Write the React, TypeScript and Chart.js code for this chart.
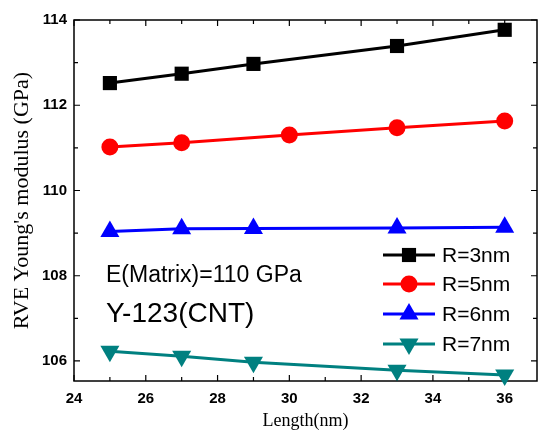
import React, { useEffect, useRef } from "react";
import { Chart, registerables } from "chart.js";

Chart.register(...registerables);

const seriesLabels = ["R=3nm", "R=5nm", "R=6nm", "R=7nm"];
const lengthsR3 = [25, 27, 29, 33, 36];
const modulusR3 = [112.52, 112.74, 112.97, 113.39, 113.77];
const lengthsR5 = [25, 27, 30, 33, 36];
const modulusR5 = [111.02, 111.12, 111.3, 111.47, 111.63];
const lengthsR6 = [25, 27, 29, 33, 36];
const modulusR6 = [109.04, 109.1, 109.11, 109.12, 109.14];
const lengthsR7 = [25, 27, 29, 33, 36];
const modulusR7 = [106.23, 106.11, 105.97, 105.78, 105.67];

const xTickValues = [24, 26, 28, 30, 32, 34, 36];
const yTickValues = [106, 108, 110, 112, 114];
const xMinorValues = [25, 27, 29, 31, 33, 35];
const yMinorValues = [107, 109, 111, 113];

const annotationLine1 = "E(Matrix)=110 GPa";
const annotationLine2 = "Y-123(CNT)";
const xTitle = "Length(nm)";
const yTitle = "RVE Young's modulus (GPa)";

const SANS = "'Liberation Sans', Arial, sans-serif";
const SERIF = "'Liberation Serif', 'Times New Roman', serif";

const colors = ["#000000", "#ff0000", "#0000ff", "#008080"];
const pointStyles = ["rect", "circle", "triangle", "triangle"];
const pointRotations = [0, 0, 0, 180];
const pointRadii = [10, 8.5, 11, 11];

const zip = (xs: number[], ys: number[]) => xs.map((x, i) => ({ x, y: ys[i] }));

function drawMarker(ctx: CanvasRenderingContext2D, style: string, r: number, rot: number, x: number, y: number, color: string) {
  ctx.save();
  ctx.fillStyle = color;
  ctx.translate(x, y);
  ctx.rotate((rot * Math.PI) / 180);
  ctx.beginPath();
  if (style === "rect") {
    const s = r / Math.SQRT2;
    ctx.rect(-s, -s, 2 * s, 2 * s);
  } else if (style === "circle") {
    ctx.arc(0, 0, r, 0, Math.PI * 2);
  } else {
    let a = 0;
    ctx.moveTo(Math.sin(a) * r, -Math.cos(a) * r);
    a += (2 * Math.PI) / 3;
    ctx.lineTo(Math.sin(a) * r, -Math.cos(a) * r);
    a += (2 * Math.PI) / 3;
    ctx.lineTo(Math.sin(a) * r, -Math.cos(a) * r);
    ctx.closePath();
  }
  ctx.fill();
  ctx.restore();
}

const framePlugin = {
  id: "frame",
  beforeDatasetsDraw(chart: any) {
    const { ctx, chartArea } = chart;
    const xs = chart.scales.x;
    const ys = chart.scales.y;
    const { left, right, top, bottom } = chartArea;
    ctx.save();
    ctx.strokeStyle = "#000";
    ctx.lineWidth = 1.5;
    ctx.strokeRect(left, top, right - left, bottom - top);
    ctx.lineWidth = 1.2;
    const major = 6;
    const minor = 4;
    ctx.beginPath();
    const xt = (vals: number[], len: number) => {
      vals.forEach((v) => {
        const px = xs.getPixelForValue(v);
        ctx.moveTo(px, bottom);
        ctx.lineTo(px, bottom - len);
        ctx.moveTo(px, top);
        ctx.lineTo(px, top + len);
      });
    };
    const yt = (vals: number[], len: number) => {
      vals.forEach((v) => {
        const py = ys.getPixelForValue(v);
        ctx.moveTo(left, py);
        ctx.lineTo(left + len, py);
        ctx.moveTo(right, py);
        ctx.lineTo(right - len, py);
      });
    };
    xt(xTickValues, major);
    xt(xMinorValues, minor);
    yt(yTickValues, major);
    yt(yMinorValues, minor);
    ctx.stroke();
    ctx.restore();
  },
  afterDraw(chart: any) {
    const { ctx, chartArea } = chart;
    const ds = chart.data.datasets;
    ctx.save();
    ctx.fillStyle = "#000";
    ctx.textBaseline = "alphabetic";
    ctx.textAlign = "left";
    ctx.font = `23px ${SANS}`;
    ctx.fillText(annotationLine1, 106, 282);
    ctx.font = `28px ${SANS}`;
    ctx.fillText(annotationLine2, 106, 322);

    const rowYs = [255, 284, 314, 344];
    ds.forEach((d: any, i: number) => {
      const y = rowYs[i];
      ctx.strokeStyle = d.borderColor;
      ctx.lineWidth = 3;
      ctx.beginPath();
      ctx.moveTo(383, y);
      ctx.lineTo(435, y);
      ctx.stroke();
      drawMarker(ctx, d.pointStyle, d.pointRadius, d.pointRotation, 409, y, d.borderColor);
      ctx.fillStyle = "#000";
      ctx.font = `21px ${SANS}`;
      ctx.textBaseline = "middle";
      ctx.textAlign = "left";
      ctx.fillText(d.label, 442, y + 1);
    });

    ctx.fillStyle = "#000";
    ctx.font = `18px ${SERIF}`;
    ctx.textAlign = "center";
    ctx.textBaseline = "middle";
    ctx.fillText(xTitle, (chartArea.left + chartArea.right) / 2, 421);
    ctx.save();
    ctx.translate(22, (chartArea.top + chartArea.bottom) / 2);
    ctx.rotate(-Math.PI / 2);
    ctx.font = `22px ${SERIF}`;
    ctx.fillText(yTitle, 0, 0);
    ctx.restore();
    ctx.restore();
  },
};

export default function App() {
  const ref = useRef<HTMLCanvasElement | null>(null);
  useEffect(() => {
    if (!ref.current) return;
    const seriesData = [
      zip(lengthsR3, modulusR3),
      zip(lengthsR5, modulusR5),
      zip(lengthsR6, modulusR6),
      zip(lengthsR7, modulusR7),
    ];
    const chart = new Chart(ref.current, {
      type: "line",
      data: {
        datasets: seriesData.map((data, i) => ({
          label: seriesLabels[i],
          data,
          borderColor: colors[i],
          backgroundColor: colors[i],
          borderWidth: 3,
          pointStyle: pointStyles[i],
          pointRotation: pointRotations[i],
          pointRadius: pointRadii[i],
          pointBorderWidth: 0,
          pointBackgroundColor: colors[i],
          tension: 0,
          clip: false,
        })),
      } as any,
      options: {
        animation: false,
        responsive: false,
        devicePixelRatio: 1,
        layout: { autoPadding: false, padding: { top: 20, right: 1, left: 0, bottom: 0 } },
        plugins: { legend: { display: false }, tooltip: { enabled: false } },
        scales: {
          x: {
            type: "linear",
            min: 24,
            max: 36.9,
            grid: { display: false, drawTicks: false },
            border: { display: false },
            afterBuildTicks: (s: any) => {
              s.ticks = xTickValues.map((v) => ({ value: v }));
            },
            afterFit: (s: any) => {
              s.height = 60;
              s.paddingLeft = 0;
              s.paddingRight = 0;
            },
            ticks: {
              color: "#000",
              font: { family: SANS, size: 15, weight: "bold" },
              padding: 9,
              maxRotation: 0,
              autoSkip: false,
            },
          },
          y: {
            type: "linear",
            min: 105.53,
            max: 114,
            grid: { display: false, drawTicks: false },
            border: { display: false },
            afterBuildTicks: (s: any) => {
              s.ticks = yTickValues.map((v) => ({ value: v }));
            },
            afterFit: (s: any) => {
              s.width = 74;
              s.paddingTop = 0;
              s.paddingBottom = 0;
            },
            ticks: {
              color: "#000",
              font: { family: SANS, size: 15, weight: "bold" },
              padding: 7,
              autoSkip: false,
            },
          },
        },
      } as any,
      plugins: [framePlugin],
    });
    return () => chart.destroy();
  }, []);
  return (
    <div style={{ position: "absolute", left: 0, top: 0, width: 538, height: 441, background: "#fff" }}>
      <canvas ref={ref} width={538} height={441} style={{ width: 538, height: 441, display: "block" }} />
    </div>
  );
}
